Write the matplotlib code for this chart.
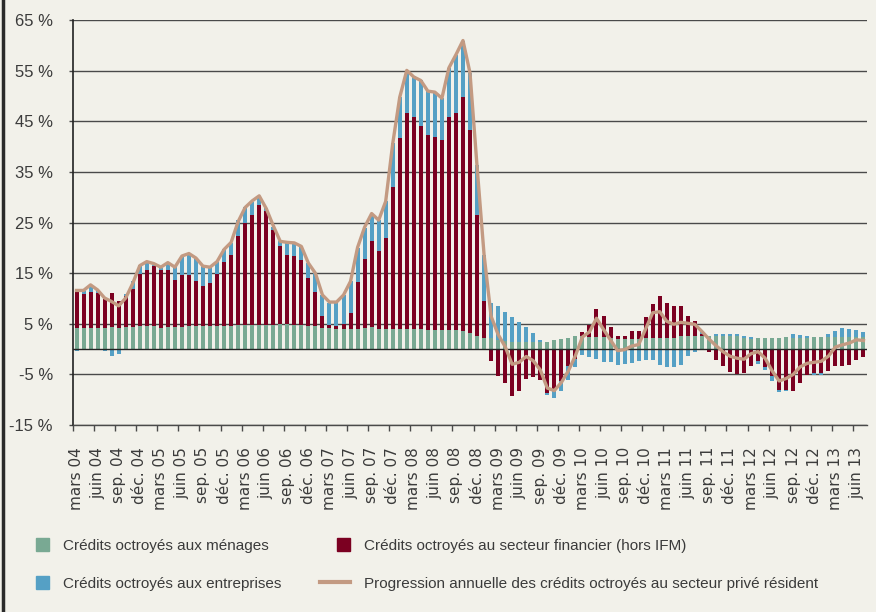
# credits_secteur_prive.py - contributions a la progression annuelle des credits au secteur prive

import numpy as np
import matplotlib
matplotlib.use("Agg")
import matplotlib.pyplot as plt
import matplotlib.patches as mpatches
from matplotlib.lines import Line2D
from matplotlib.legend_handler import HandlerPatch

OUTPUT = "out.png"

# mois : mars 2004 -> juillet 2013 (113 points), etiquette un mois sur trois
tick_labels = []
for yr in range(4, 14):
    for m in ["mars", "juin", "sep.", "déc."]:
        tick_labels.append(f"{m} {yr:02d}")
tick_labels = tick_labels[:38]

# contributions (points de %)
menages = [4.2, 4.2, 4.2, 4.2, 4.2, 4.35, 4.2, 4.3, 4.3, 4.6,
           4.65, 4.5, 4.2, 4.4, 4.3, 4.4, 4.5, 4.5, 4.6, 4.6,
           4.6, 4.65, 4.65, 4.8, 4.8, 4.8, 4.8, 4.8, 4.8, 4.9,
           5.0, 4.8, 4.7, 4.6, 4.5, 4.2, 4.2, 4.0, 4.0, 4.0,
           4.0, 4.2, 4.3, 4.0, 4.0, 4.0, 4.0, 4.0, 4.0, 4.0,
           3.8, 3.8, 3.8, 3.8, 3.7, 3.5, 3.2, 2.6, 2.2, 2.1,
           1.8, 1.65, 1.5, 1.5, 1.5, 1.5, 1.5, 1.5, 1.8, 2.0,
           2.2, 2.6, 2.6, 2.4, 2.4, 2.4, 2.2, 2.0, 2.0, 2.0,
           2.0, 2.2, 2.2, 2.2, 2.2, 2.2, 2.6, 2.6, 2.6, 2.6,
           2.6, 2.6, 2.6, 2.6, 2.6, 2.25, 2.05, 2.25, 2.25, 2.25,
           2.25, 2.45, 2.25, 2.25, 2.25, 2.4, 2.3, 2.4, 2.4, 2.4,
           2.4, 2.4, 2.4]

financier = [7.7, 6.7, 7.1, 6.8, 5.7, 6.75, 5.3, 6.2, 7.6, 10.3,
             11.05, 11.9, 11.5, 11.3, 9.3, 10.2, 10.2, 9.0, 7.9, 8.4,
             10.3, 12.55, 13.95, 17.6, 20.2, 21.7, 23.7, 22.6, 18.8, 15.4,
             13.6, 13.6, 12.9, 9.4, 6.8, 2.4, 0.6, 0.6, 1.0, 3.1,
             9.2, 13.6, 17.1, 15.4, 18.0, 28.0, 37.7, 42.7, 41.9, 40.2,
             38.5, 38.1, 37.5, 42.0, 43.0, 46.3, 40.2, 24.0, 7.4, -2.4,
             -5.4, -6.6, -9.3, -8.2, -5.9, -5.6, -6.05, -8.75, -8.35, -6.4,
             -3.3, -1.9, 0.7, 2.4, 5.6, 4.2, 2.1, 0.6, 0.6, 1.6,
             1.6, 4.2, 6.7, 8.3, 6.9, 6.35, 5.95, 4.0, 3.0, 0.4,
             -0.5, -2.1, -3.3, -4.5, -4.9, -4.7, -3.4, -2.4, -3.6, -5.4,
             -8.0, -8.1, -8.2, -6.6, -5.2, -4.75, -4.75, -4.4, -3.4, -3.4,
             -3.1, -2.1, -1.65]

entreprises = [-0.3, 0.5, 1.1, 0.4, -0.3, -1.45, -1.05, 0.3, 1.5, 1.8,
               1.3, 0.2, 0.4, 1.1, 2.6, 3.8, 4.1, 4.6, 3.9, 3.2,
               2.4, 2.5, 2.3, 3.1, 3.0, 2.6, 1.7, 0.4, 0.5, 1.0,
               2.5, 2.5, 2.7, 3.0, 3.7, 4.1, 4.4, 4.7, 5.7, 6.3,
               6.7, 6.1, 5.1, 6.1, 7.2, 8.7, 8.1, 8.3, 8.0, 8.9,
               8.7, 8.7, 8.3, 9.8, 11.5, 11.2, 11.1, 9.7, 9.1, 7.0,
               6.8, 5.75, 4.9, 3.9, 2.8, 1.7, 0.35, -0.25, -1.35, -1.95,
               -2.9, -1.7, -1.1, -1.6, -1.9, -2.6, -2.6, -3.1, -2.9, -2.8,
               -2.4, -2.1, -2.1, -3.1, -3.5, -3.6, -3.1, -1.3, -0.5, 0.4,
               0.0, 0.4, 0.4, 0.4, 0.4, 0.35, 0.35, -0.45, -0.45, -0.85,
               -0.55, -0.25, 0.75, 0.55, 0.35, -0.3, -0.3, 0.6, 1.2, 1.8,
               1.6, 1.4, 1.0]

# progression annuelle totale (%)
progression = [11.6, 11.6, 12.7, 11.7, 10.1, 9.4, 8.55, 10.1, 13.0, 16.5,
               17.3, 16.9, 16.2, 17.1, 16.2, 18.4, 18.9, 18.0, 16.4, 16.2,
               17.3, 19.7, 21.1, 25.2, 28.0, 29.3, 30.3, 27.8, 24.4, 21.3,
               21.1, 21.0, 20.3, 17.0, 15.0, 10.7, 9.3, 9.3, 10.7, 13.4,
               20.1, 24.1, 26.8, 25.5, 29.2, 40.6, 49.8, 55.1, 53.8, 53.1,
               51.0, 50.8, 49.6, 55.6, 58.2, 61.0, 54.6, 36.2, 18.7, 6.5,
               2.9, 0.5, -3.0, -2.6, -1.45, -2.3, -4.1, -7.7, -8.2, -6.6,
               -4.3, -1.3, 2.4, 3.4, 6.1, 3.9, 1.8, -0.3, -0.1, 0.6,
               0.9, 4.0, 7.2, 7.4, 5.5, 4.9, 5.3, 5.1, 4.9, 3.5,
               2.0, 0.7, -0.5, -1.4, -1.8, -2.0, -0.9, -0.5, -1.8, -4.3,
               -6.3, -5.8, -5.0, -3.5, -2.8, -2.6, -2.4, -1.4, 0.4, 0.85,
               1.2, 1.85, 1.7]

series_names = ["Crédits octroyés aux ménages",
                "Crédits octroyés au secteur financier (hors IFM)",
                "Crédits octroyés aux entreprises"]
line_name = "Progression annuelle des crédits octroyés au secteur privé résident"

BG = "#f2f1ea"
GREEN = "#79a993"
RED = "#7b0021"
BLUE = "#55a0c5"
LINE = "#c39a82"
TXT = "#3b3b3b"
GRID = "#4a4a4a"
FONT = "Liberation Sans"


def square_patch(legend, orig_handle, xdescent, ydescent, width, height, fontsize):
    # carre aligne a droite dans la case de la legende
    return mpatches.Rectangle((width - height - xdescent, -ydescent), height, height)


def plot_chart():
    fig = plt.figure(figsize=(8.76, 6.12), dpi=100, facecolor=BG)
    ax = fig.add_axes([73 / 876, 1 - 425 / 612, 794 / 876, 404.7 / 612])
    ax.set_facecolor(BG)

    x = np.arange(len(progression))
    pos = np.zeros(len(x))
    neg = np.zeros(len(x))
    for vals, col in [(menages, GREEN), (financier, RED), (entreprises, BLUE)]:
        v = np.array(vals)
        bottom = np.where(v >= 0, pos, neg)
        ax.bar(x, v, width=0.57, bottom=bottom, color=col, linewidth=0, zorder=2)
        pos += np.where(v > 0, v, 0)
        neg += np.where(v < 0, v, 0)

    ax.axhline(0, color="#222222", lw=1.0, zorder=3)
    ax.plot(x, progression, color=LINE, lw=2.4, zorder=4, solid_joinstyle="round")

    # axes
    ax.set_xlim(-0.5, len(x) - 0.5)
    ax.set_ylim(-15, 65)
    ax.set_yticks(range(-15, 66, 10))
    ax.set_yticklabels([f"{v} %" for v in range(-15, 66, 10)],
                       fontsize=12, color=TXT, family=FONT)
    ax.yaxis.grid(True, color=GRID, lw=1.0, zorder=1)
    ax.set_axisbelow(True)
    ax.tick_params(axis="y", direction="out", length=3, width=1, color=GRID, pad=11.5)

    ax.set_xticks(np.arange(-0.5, len(x) - 0.5, 3))
    ax.set_xticklabels([])
    ax.tick_params(axis="x", which="major", direction="out", length=4, width=1, color=GRID)
    ax.set_xticks(np.arange(0, 3 * len(tick_labels), 3), minor=True)
    ax.set_xticklabels(tick_labels, minor=True, rotation=90, fontsize=11,
                       color=TXT, va="top", ha="center")
    ax.tick_params(axis="x", which="minor", length=0, pad=16)

    for s in ["top", "right"]:
        ax.spines[s].set_visible(False)
    ax.spines["left"].set_color("#222222")
    ax.spines["left"].set_linewidth(1.2)
    ax.spines["bottom"].set_color(GRID)
    ax.spines["bottom"].set_linewidth(1.0)

    # legende en deux colonnes
    h_men = mpatches.Patch(color=GREEN)
    h_ent = mpatches.Patch(color=BLUE)
    h_fin = mpatches.Patch(color=RED)
    h_line = Line2D([], [], color=LINE, lw=3)
    common = dict(frameon=False, borderpad=0, handlelength=1.96,
                  handleheight=0.92, handletextpad=0.92, labelspacing=1.55,
                  borderaxespad=0, loc="upper left",
                  handler_map={mpatches.Patch: HandlerPatch(patch_func=square_patch)},
                  prop={"family": FONT, "size": 11})
    leg1 = fig.legend([h_men, h_ent], [series_names[0], series_names[2]],
                      bbox_to_anchor=(19 / 876, 1 - 538 / 612), **common)
    for t in leg1.get_texts():
        t.set_color(TXT)
    leg2 = fig.legend([h_fin, h_line], [series_names[1], line_name],
                      bbox_to_anchor=(320 / 876, 1 - 538 / 612), **common)
    for t in leg2.get_texts():
        t.set_color(TXT)

    # bordure gauche
    fig.add_artist(Line2D([3 / 876, 3 / 876], [0, 1], transform=fig.transFigure,
                          color="#2a2a2a", lw=2.5))

    fig.savefig(OUTPUT, dpi=100, facecolor=BG)


if __name__ == "__main__":
    plot_chart()
